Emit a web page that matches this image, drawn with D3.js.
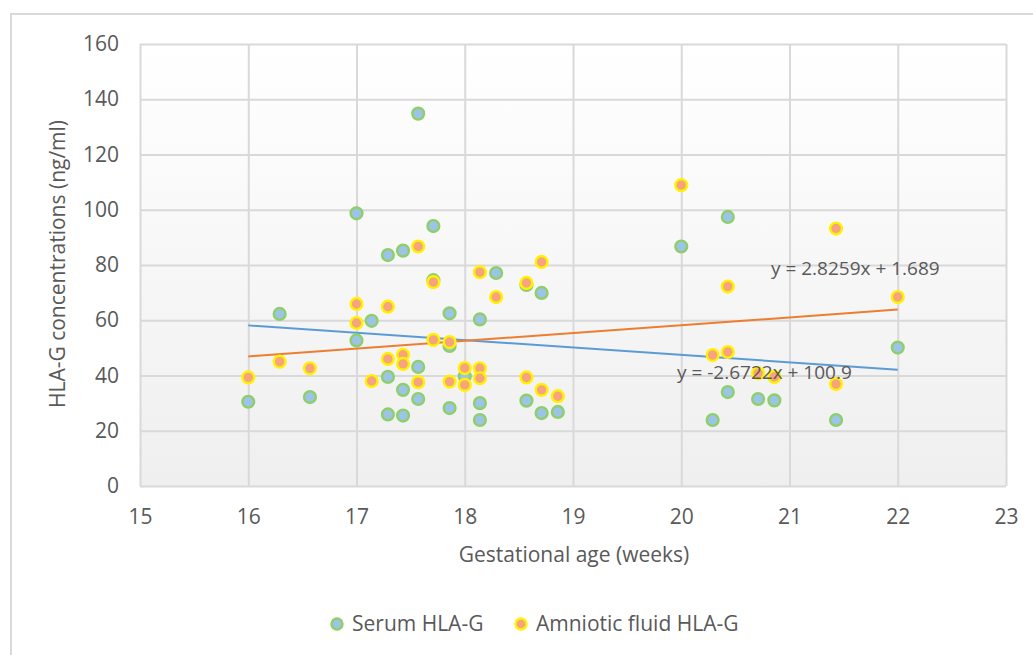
<!DOCTYPE html>
<html>
<head>
<meta charset="utf-8">
<script src="https://cdn.jsdelivr.net/npm/d3@7"></script>
<style>
  html, body { margin: 0; padding: 0; background: #fff; }
  svg { display: block; }
  text { font-family: "Open Sans", "Noto Sans", sans-serif; fill: #595959; }
</style>
</head>
<body>
<svg id="chart" width="1033" height="655"></svg>
<script>
// ---- data ----
const serumWeeks = [16, 16.29, 16.57, 17, 17, 17.14, 17.29, 17.29, 17.29, 17.43, 17.43, 17.43,
  17.57, 17.57, 17.57, 17.71, 17.71, 17.86, 17.86, 17.86, 18, 18.14, 18.14, 18.14, 18.29,
  18.57, 18.57, 18.71, 18.71, 18.86, 20, 20.29, 20.43, 20.43, 20.71, 20.86, 21.43, 22];
const serumValues = [30.5, 62.3, 32.2, 98.7, 52.7, 59.8, 83.6, 39.5, 25.9, 85.2, 34.8, 25.5,
  134.8, 43.1, 31.5, 94.1, 74.5, 62.5, 50.7, 28.2, 39.7, 60.3, 30, 23.9, 77.1,
  72.8, 30.9, 69.9, 26.4, 26.8, 86.7, 23.9, 97.4, 34, 31.5, 31, 23.9, 50.1];

const amnioticWeeks = [16, 16.29, 16.57, 17, 17, 17.14, 17.29, 17.29, 17.43, 17.43, 17.57, 17.57,
  17.71, 17.71, 17.86, 17.86, 18, 18, 18.14, 18.14, 18.14, 18.29, 18.57, 18.57, 18.71, 18.71,
  18.86, 20, 20.29, 20.43, 20.43, 20.71, 20.86, 21.43, 21.43, 22];
const amnioticValues = [39.3, 45, 42.6, 65.9, 59, 38, 64.9, 46, 47.5, 44.2, 86.7, 37.6,
  73.8, 52.9, 52.1, 37.8, 42.7, 36.6, 77.4, 42.6, 39, 68.4, 73.5, 39.3, 81.1, 34.8,
  32.5, 108.9, 47.4, 72.2, 48.5, 40.8, 39.5, 93.2, 36.9, 68.4];

const seriesNames = ["Serum HLA-G", "Amniotic fluid HLA-G"];
const trendSlopes = [-2.6722, 2.8259];
const trendIntercepts = [100.9, 1.689];
const trendLabels = ["y = -2.6722x + 100.9", "y = 2.8259x + 1.689"];
const trendRange = [16, 22];

const xTicks = [15, 16, 17, 18, 19, 20, 21, 22, 23];
const yTicks = [0, 20, 40, 60, 80, 100, 120, 140, 160];
const xTitle = "Gestational age (weeks)";
const yTitle = "HLA-G concentrations (ng/ml)";

// ---- layout ----
const svg = d3.select("#chart");
const plot = { left: 140, right: 1006, top: 44, bottom: 486 };
const x = d3.scaleLinear().domain([15, 23]).range([plot.left, plot.right]);
const y = d3.scaleLinear().domain([0, 160]).range([plot.bottom, plot.top]);

const styles = [
  { fill: "#9dc3e6", stroke: "#8fcf6a", line: "#5b9bd5" },
  { fill: "#f6a47f", stroke: "#fff200", line: "#ed7d31" }
];

// outer frame
svg.append("path")
  .attr("d", "M11,655 L11,14 L1033,14")
  .attr("fill", "none").attr("stroke", "#d9d9d9").attr("stroke-width", 2);

// plot background gradient
const defs = svg.append("defs");
const grad = defs.append("linearGradient").attr("id", "bg").attr("x1", 0).attr("y1", 0).attr("x2", 0).attr("y2", 1);
grad.append("stop").attr("offset", "0%").attr("stop-color", "#ffffff");
grad.append("stop").attr("offset", "100%").attr("stop-color", "#efefef");
svg.append("rect")
  .attr("x", plot.left).attr("y", plot.top)
  .attr("width", plot.right - plot.left).attr("height", plot.bottom - plot.top)
  .attr("fill", "url(#bg)");

// gridlines via axes
const gridX = svg.append("g").attr("transform", `translate(0,${plot.bottom})`)
  .call(d3.axisBottom(x).tickValues(xTicks).tickSize(-(plot.bottom - plot.top)).tickFormat(""));
const gridY = svg.append("g").attr("transform", `translate(${plot.left},0)`)
  .call(d3.axisLeft(y).tickValues(yTicks).tickSize(-(plot.right - plot.left)).tickFormat(""));
[gridX, gridY].forEach(g => {
  g.select(".domain").remove();
  g.selectAll(".tick line").attr("stroke", "#d9d9d9").attr("stroke-width", 2);
});

// tick labels via axes
const axX = svg.append("g").attr("transform", `translate(0,${plot.bottom})`)
  .call(d3.axisBottom(x).tickValues(xTicks).tickSize(0).tickPadding(23));
const axY = svg.append("g").attr("transform", `translate(${plot.left},0)`)
  .call(d3.axisLeft(y).tickValues(yTicks).tickSize(0).tickPadding(21));
[axX, axY].forEach(g => {
  g.select(".domain").remove();
  g.selectAll(".tick text").attr("font-size", 21).attr("fill", "#595959")
    .style("font-family", "'Open Sans', sans-serif");
});

// axis titles
svg.append("text").attr("x", 574).attr("y", 562).attr("text-anchor", "middle")
  .attr("font-size", 21).text(xTitle);
svg.append("text").attr("transform", `translate(65,264) rotate(-90)`).attr("text-anchor", "middle")
  .attr("font-size", 21).text(yTitle);

// trendlines
for (let i = 0; i < 2; i++) {
  svg.append("line")
    .attr("x1", x(trendRange[0])).attr("y1", y(trendSlopes[i] * trendRange[0] + trendIntercepts[i]))
    .attr("x2", x(trendRange[1])).attr("y2", y(trendSlopes[i] * trendRange[1] + trendIntercepts[i]))
    .attr("stroke", styles[i].line).attr("stroke-width", 2);
}

// points
const serumData = serumWeeks.map((w, i) => ({ w, v: serumValues[i] }));
const amnioticData = amnioticWeeks.map((w, i) => ({ w, v: amnioticValues[i] }));
[serumData, amnioticData].forEach((data, i) => {
  svg.append("g").selectAll("circle").data(data).join("circle")
    .attr("cx", d => x(d.w)).attr("cy", d => y(d.v)).attr("r", 5.9)
    .attr("fill", styles[i].fill).attr("stroke", styles[i].stroke).attr("stroke-width", 2.4);
});

// trendline equations
svg.append("text").attr("x", 677).attr("y", 379).attr("font-size", 19).text(trendLabels[0]);
svg.append("text").attr("x", 771).attr("y", 275).attr("font-size", 19).text(trendLabels[1]);

// legend
const legX = [337, 521];
seriesNames.forEach((name, i) => {
  svg.append("circle").attr("cx", legX[i]).attr("cy", 624).attr("r", 5.5)
    .attr("fill", styles[i].fill).attr("stroke", styles[i].stroke).attr("stroke-width", 2.4);
  svg.append("text").attr("x", legX[i] + 15).attr("y", 631).attr("font-size", 21).text(name);
});
</script>
</body>
</html>
